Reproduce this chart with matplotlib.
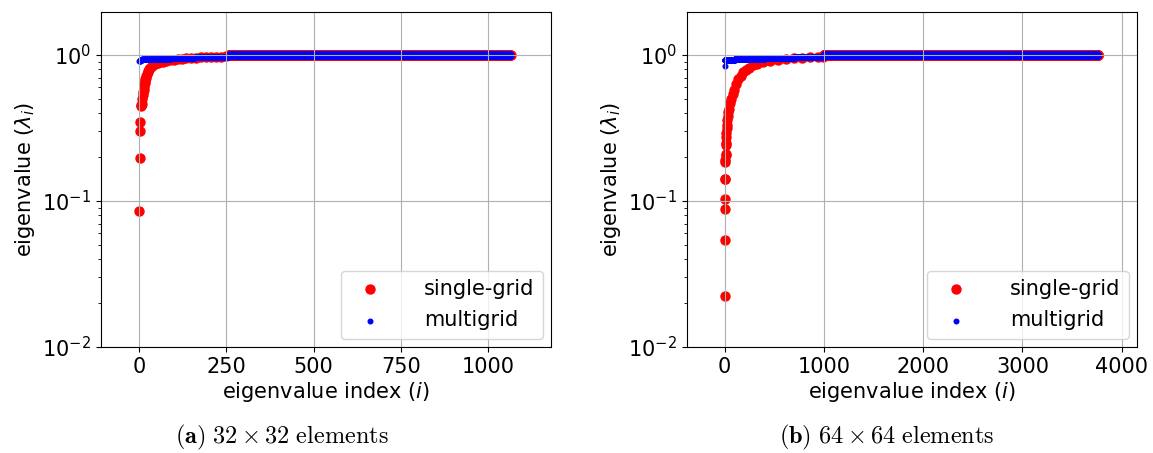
import numpy as np
import matplotlib
matplotlib.use('Agg')
import matplotlib.pyplot as plt

# (a) 32 x 32 elements -- single-grid, early part of the spectrum (index, eigenvalue)
sg_a_idx = [0, 1, 2, 3, 4, 5, 7, 9, 10, 11, 12, 13, 14, 15, 16, 17, 18, 20, 22, 24,
            26, 28, 31, 35, 40, 46, 53, 60, 68, 77, 87, 98, 110, 122, 135, 148,
            162, 176, 190, 205, 220, 235, 250]
sg_a_val = [0.0855, 0.198, 0.303, 0.346, 0.447, 0.452, 0.46, 0.50, 0.53, 0.56, 0.58,
            0.60, 0.62, 0.64, 0.66, 0.68, 0.70, 0.72, 0.74, 0.76, 0.78, 0.80, 0.82,
            0.84, 0.855, 0.87, 0.88, 0.89, 0.90, 0.91, 0.92, 0.93, 0.94, 0.945,
            0.95, 0.955, 0.96, 0.963, 0.966, 0.969, 0.972, 0.975, 0.978]
# flat stretches: start index, end index, level
sg_a_seg_start = [256]
sg_a_seg_end = [1065]
sg_a_seg_val = [1.0]

mg_a_seg_start = [0, 3, 8, 30, 90, 160, 256, 256]
mg_a_seg_end = [3, 8, 30, 90, 160, 256, 1065, 1065]
mg_a_seg_val = [0.91, 0.925, 0.935, 0.945, 0.955, 0.97, 0.99, 1.01]

# (b) 64 x 64 elements
sg_b_idx = [0, 1, 2, 3, 4, 5, 6, 7, 8, 9, 10, 12, 14, 16, 18, 20, 25, 30, 38, 45,
            55, 65, 80, 95, 115, 135, 160, 185, 210, 240, 280, 330, 390, 460, 540,
            620, 700, 780, 860, 940, 990]
sg_b_val = [0.0225, 0.054, 0.0877, 0.103, 0.141, 0.142, 0.186, 0.19, 0.207, 0.21,
            0.242, 0.25, 0.275, 0.29, 0.315, 0.33, 0.36, 0.38, 0.41, 0.43, 0.47,
            0.50, 0.54, 0.58, 0.63, 0.68, 0.72, 0.76, 0.79, 0.82, 0.85, 0.87, 0.89,
            0.91, 0.925, 0.938, 0.948, 0.956, 0.963, 0.97, 0.975]
sg_b_seg_start = [1000]
sg_b_seg_end = [3760]
sg_b_seg_val = [1.0]

mg_b_idx = [0, 1]
mg_b_val = [0.84, 0.92]
mg_b_seg_start = [2, 100, 400, 700, 1000, 1000]
mg_b_seg_end = [100, 400, 700, 1000, 3760, 3760]
mg_b_seg_val = [0.93, 0.945, 0.958, 0.97, 0.99, 1.01]


def expand(idx, val, starts, ends, levels):
    xs, ys = list(idx), list(val)
    for s, e, v in zip(starts, ends, levels):
        r = np.arange(s, e + 1)
        xs.extend(r)
        ys.extend(np.full(len(r), v))
    return np.array(xs), np.array(ys)


panels = [
    dict(sg=expand(sg_a_idx, sg_a_val, sg_a_seg_start, sg_a_seg_end, sg_a_seg_val),
         mg=expand([], [], mg_a_seg_start, mg_a_seg_end, mg_a_seg_val),
         xlim=(-110, 1181), xticks=[0, 250, 500, 750, 1000], left=101,
         caption=r'$\mathbf{(a)}\ 32\times 32\ \mathrm{elements}$', cx=282),
    dict(sg=expand(sg_b_idx, sg_b_val, sg_b_seg_start, sg_b_seg_end, sg_b_seg_val),
         mg=expand(mg_b_idx, mg_b_val, mg_b_seg_start, mg_b_seg_end, mg_b_seg_val),
         xlim=(-380, 4154), xticks=[0, 1000, 2000, 3000, 4000], left=687,
         caption=r'$\mathbf{(b)}\ 64\times 64\ \mathrm{elements}$', cx=887),
]

W, H = 1153, 453
fig = plt.figure(figsize=(W / 100, H / 100), dpi=100)

for p in panels:
    ax = fig.add_axes([p['left'] / W, (H - 347) / H, 450 / W, 335 / H])
    ax.scatter(*p['sg'], s=42, c='red', label='single-grid')
    ax.scatter(*p['mg'], s=11, c='blue', label='multigrid')
    ax.set_yscale('log')
    ax.set_ylim(1e-2, 1.97)
    ax.set_xlim(*p['xlim'])
    ax.set_xticks(p['xticks'])
    ax.grid(True)
    ax.tick_params(labelsize=15)
    ax.set_xlabel(r'eigenvalue index ($i$)', fontsize=15, labelpad=2)
    ax.set_ylabel(r'eigenvalue ($\lambda_i$)', fontsize=15)
    ax.legend(loc='lower right', fontsize=15, handletextpad=1.6,
              borderaxespad=0.4, labelspacing=0.55)
    fig.text(p['cx'] / W, 1 - 437 / H, p['caption'], ha='center', va='center',
             fontsize=17.5, math_fontfamily='cm')

fig.savefig('out.png', dpi=100)
